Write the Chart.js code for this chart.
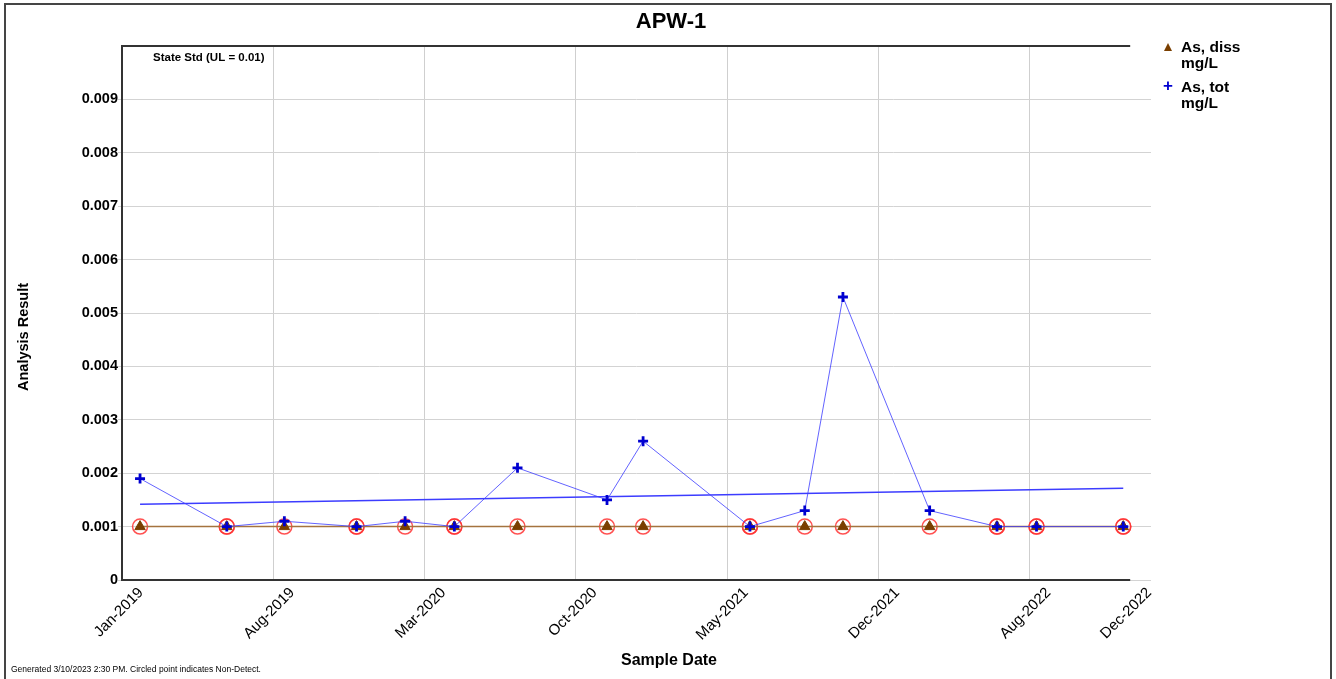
<!DOCTYPE html>
<html>
<head>
<meta charset="utf-8">
<title>APW-1</title>
<script src="https://cdn.jsdelivr.net/npm/chart.js@4.4.1/dist/chart.umd.min.js"></script>
<style>
  html, body { margin: 0; padding: 0; background: #fff; }
  body { width: 1336px; height: 679px; position: relative; overflow: hidden; font-family: "Liberation Sans", Arial, sans-serif; color: #000; }
  #frame { position: absolute; left: 4px; top: 3px; width: 1324px; height: 720px; border: 2px solid #454545; }
  #wrap { position: absolute; left: 0; top: 0; width: 1336px; height: 679px; }
  #title { position: absolute; left: 0; top: 8px; width: 1342px; text-align: center; font-weight: bold; font-size: 22px; line-height: 26px; }
  #yTitle { position: absolute; left: 23px; top: 337px; transform: translate(-50%, -50%) rotate(-90deg); white-space: nowrap; font-weight: bold; font-size: 14.5px; }
  #xTitle { position: absolute; left: 669px; top: 660px; transform: translate(-50%, -50%); white-space: nowrap; font-weight: bold; font-size: 16px; }
  #footer { position: absolute; left: 11px; top: 664px; font-size: 8.5px; white-space: nowrap; }
  .leg { position: absolute; left: 1181px; font-weight: bold; font-size: 15.5px; line-height: 16px; }
  .sym { position: absolute; left: -19px; top: 2px; }
  .tri { width: 0; height: 0; border-left: 4px solid transparent; border-right: 4px solid transparent; border-bottom: 8px solid #7a3f00; left: -17px; top: 4px; }
  .plus { color: #0000d0; font-size: 17px; line-height: 16px; top: -1px; left: -18px; }
</style>
</head>
<body>
<div id="frame"></div>
<div id="wrap"><canvas id="grafico" width="1336" height="679"></canvas></div>
<div id="title">APW-1</div>
<div id="yTitle">Analysis Result</div>
<div id="xTitle">Sample Date</div>
<div id="legend"></div>
<div id="footer">Generated 3/10/2023 2:30 PM. Circled point indicates Non-Detect.</div>
<script>
// Fechas de muestreo y resultados (mg/L)
const sampleDates = ["2019-01-27", "2019-06-01", "2019-08-23", "2019-12-05", "2020-02-13", "2020-04-24",
  "2020-07-24", "2020-11-30", "2021-01-21", "2021-06-24", "2021-09-11", "2021-11-05",
  "2022-03-10", "2022-06-15", "2022-08-11", "2022-12-14"];
const asDiss = [0.001, 0.001, 0.001, 0.001, 0.001, 0.001, 0.001, 0.001,
  0.001, 0.001, 0.001, 0.001, 0.001, 0.001, 0.001, 0.001];
const asDissND = [true, true, true, true, true, true, true, true,
  true, true, true, true, true, true, true, true];
const asTot = [0.0019, 0.001, 0.0011, 0.001, 0.0011, 0.001, 0.0021, 0.0015,
  0.0026, 0.001, 0.0013, 0.0053, 0.0013, 0.001, 0.001, 0.001];
const asTotND = [false, true, false, true, false, true, false, false,
  false, true, false, false, false, true, true, true];

// Tendencia de As total
const trendDates = ["2019-01-27", "2022-12-14"];
const trendTot = [0.00142, 0.00172];

// Ejes
const xTickDates = ["2019-01-01", "2019-08-07", "2020-03-12", "2020-10-16", "2021-05-22", "2021-12-26", "2022-08-01", "2022-12-24"];
const xTickLabels = ["Jan-2019", "Aug-2019", "Mar-2020", "Oct-2020", "May-2021", "Dec-2021", "Aug-2022", "Dec-2022"];
const xRange = ["2019-01-01", "2023-01-23"];
const yTicks = [0, 0.001, 0.002, 0.003, 0.004, 0.005, 0.006, 0.007, 0.008, 0.009, 0.01];
const yTickLabels = ["0", "0.001", "0.002", "0.003", "0.004", "0.005", "0.006", "0.007", "0.008", "0.009", ""];

const seriesLabels = [["As, diss", "mg/L"], ["As, tot", "mg/L"]];
const stdLabel = "State Std (UL = 0.01)";

const toDay = (s) => Date.UTC(+s.slice(0, 4), +s.slice(5, 7) - 1, +s.slice(8, 10)) / 86400000;

const toPoints = (dates, values) => dates.map((d, i) => ({ x: toDay(d), y: values[i] }));

const ndPoints = [
  ...sampleDates.map((d, i) => (asDissND[i] ? { x: toDay(d), y: asDiss[i] } : null)).filter(Boolean),
  ...sampleDates.map((d, i) => (asTotND[i] ? { x: toDay(d), y: asTot[i] } : null)).filter(Boolean)
];

// Leyenda
const legend = document.getElementById("legend");
seriesLabels.forEach((lines, i) => {
  const item = document.createElement("div");
  item.className = "leg";
  item.style.top = (39 + i * 40) + "px";
  item.innerHTML = `<span class="sym ${i === 0 ? "tri" : "plus"}">${i === 0 ? "" : "+"}</span>${lines.join("<br>")}`;
  legend.appendChild(item);
});

// Marco del área de gráfico y etiqueta del estándar
const frameLines = {
  id: "frameLines",
  beforeDatasetsDraw(chart) {
    const { ctx, chartArea } = chart;
    const xEnd = chart.scales.x.getPixelForValue(toDay(xTickDates[xTickDates.length - 1]));
    ctx.save();
    ctx.strokeStyle = "#333";
    ctx.lineWidth = 2;
    ctx.beginPath();
    ctx.moveTo(xEnd, chartArea.top);
    ctx.lineTo(chartArea.left, chartArea.top);
    ctx.lineTo(chartArea.left, chartArea.bottom);
    ctx.lineTo(xEnd, chartArea.bottom);
    ctx.stroke();
    ctx.fillStyle = "#000";
    ctx.font = "bold 11.5px 'Liberation Sans', Arial, sans-serif";
    ctx.textBaseline = "middle";
    ctx.fillText(stdLabel, chartArea.left + 31, chartArea.top + 12);
    ctx.restore();
  }
};

new Chart(document.getElementById("grafico").getContext("2d"), {
  type: "line",
  data: {
    datasets: [
      {
        label: "Non-Detect",
        data: ndPoints,
        showLine: false,
        pointStyle: "circle",
        pointRadius: 7.5,
        pointBorderWidth: 1.5,
        pointBorderColor: "rgba(255, 50, 50, 0.85)",
        pointBackgroundColor: "rgba(255, 255, 255, 0)",
        order: 4
      },
      {
        label: seriesLabels[0].join(" "),
        data: toPoints(sampleDates, asDiss),
        borderColor: "#a5733f",
        borderWidth: 1.5,
        pointStyle: "triangle",
        pointRadius: 6,
        pointBorderWidth: 1,
        pointBorderColor: "#7a3f00",
        pointBackgroundColor: "#7a3f00",
        order: 3
      },
      {
        label: "Trend",
        data: toPoints(trendDates, trendTot),
        borderColor: "#3c3cff",
        borderWidth: 1.5,
        pointRadius: 0,
        order: 2
      },
      {
        label: seriesLabels[1].join(" "),
        data: toPoints(sampleDates, asTot),
        borderColor: "rgba(60, 60, 255, 0.8)",
        borderWidth: 1,
        pointStyle: "cross",
        pointRadius: 5,
        pointBorderWidth: 2.8,
        pointBorderColor: "#0000d0",
        order: 1
      }
    ]
  },
  options: {
    responsive: false,
    animation: false,
    events: [],
    layout: { padding: { left: 0, top: 46, right: 185, bottom: 0 } },
    plugins: { legend: { display: false }, title: { display: false }, tooltip: { enabled: false } },
    scales: {
      x: {
        type: "linear",
        min: toDay(xRange[0]),
        max: toDay(xRange[1]),
        afterBuildTicks: (scale) => { scale.ticks = xTickDates.map((d) => ({ value: toDay(d) })); },
        afterFit: (scale) => { scale.height = 99; },
        border: { display: false },
        grid: {
          drawTicks: false,
          color: (c) => (c.index === 0 || c.index === xTickDates.length - 1 ? "rgba(0,0,0,0)" : "#cfcfcf")
        },
        ticks: {
          autoSkip: false,
          maxRotation: 45,
          minRotation: 45,
          padding: 4,
          labelOffset: 19,
          color: "#000",
          font: { family: "'Liberation Sans', Arial, sans-serif", size: 15 },
          callback: (v, i) => xTickLabels[i]
        }
      },
      y: {
        min: 0,
        max: 0.01,
        afterBuildTicks: (scale) => { scale.ticks = yTicks.map((v) => ({ value: v })); },
        afterFit: (scale) => { scale.width = 122; },
        border: { display: false },
        grid: {
          tickLength: 4,
          color: (c) => (c.index === yTicks.length - 1 ? "rgba(0,0,0,0)" : "#d3d3d3")
        },
        ticks: {
          padding: 0,
          color: "#000",
          font: { family: "'Liberation Sans', Arial, sans-serif", size: 14.5, weight: "bold" },
          callback: (v, i) => yTickLabels[i]
        }
      }
    }
  },
  plugins: [frameLines]
});
</script>
</body>
</html>
